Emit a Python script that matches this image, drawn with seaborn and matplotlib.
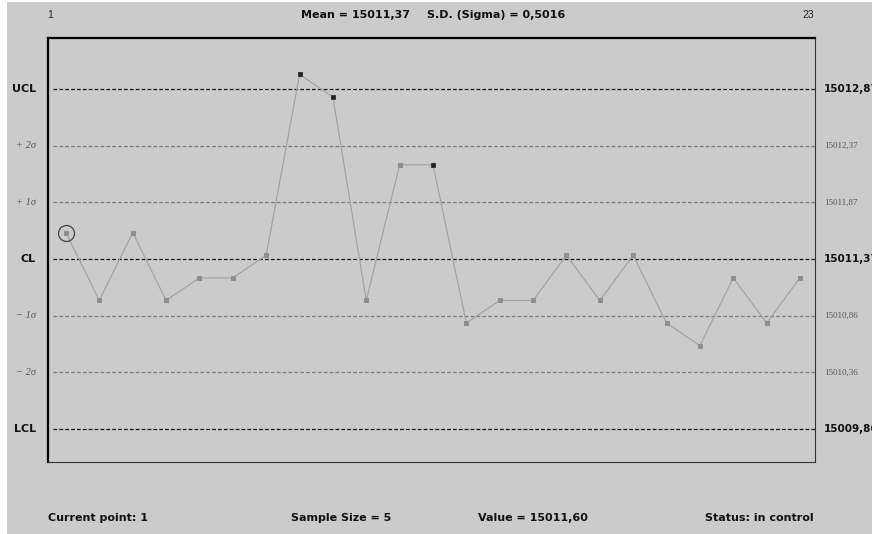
import matplotlib
matplotlib.use("Agg")
import matplotlib.pyplot as plt
import matplotlib.patches as mpatches
import numpy as np
import pandas as pd
import seaborn as sns

# ---- data -------------------------------------------------------------
samples = list(range(1, 24))
sample_means = [15011.60, 15011.00, 15011.60, 15011.00, 15011.20, 15011.20,
                15011.40, 15013.00, 15012.80, 15011.00, 15012.20, 15012.20,
                15010.80, 15011.00, 15011.00, 15011.40, 15011.00, 15011.40,
                15010.80, 15010.60, 15011.20, 15010.80, 15011.20]
flagged_samples = [8, 9, 12]
current_point = 1
process_mean = 15011.366
process_sigma = 0.5016
sample_size = 5
status_text = "in control"

zone_names = ["UCL", "+ 2\u03c3", "+ 1\u03c3", "CL", "\u2212 1\u03c3", "\u2212 2\u03c3", "LCL"]
zone_k = [3, 2, 1, 0, -1, -2, -3]


def comma(v, nd=2):
    return f"{v:.{nd}f}".replace(".", ",")


df = pd.DataFrame({"sample": samples, "value": sample_means})
df["flag"] = df["sample"].isin(flagged_samples)

# ---- figure -----------------------------------------------------------
W, H = 872, 534
BG = "#cbcbcb"
sns.set_theme(style="white")
fig = plt.figure(figsize=(W / 100, H / 100), dpi=100, facecolor="white")

# window panel
fig.patches.append(mpatches.Rectangle((7 / W, 0), 1 - 7 / W, 1 - 2 / H,
                                      transform=fig.transFigure,
                                      facecolor=BG, edgecolor="none", zorder=-10))

L, R, T, B = 48, 815, 38, 462
ax = fig.add_axes([L / W, 1 - B / H, (R - L) / W, (B - T) / H])
ax.set_facecolor(BG)
ax.set_zorder(1)

# control / zone lines
for name, k in zip(zone_names, zone_k):
    y = process_mean + k * process_sigma
    main = k in (3, 0, -3)
    ax.axhline(y, xmin=5 / (R - L), xmax=1, color="#111111" if main else "#7a7a7a",
               lw=0.9, ls=(0, (3.0, 1.7)), zorder=1)
    ax.text(-12 / (R - L), y, name, transform=ax.get_yaxis_transform(),
            ha="right", va="center",
            fontsize=8 if main else 7.5,
            fontweight="bold" if main else "normal",
            fontfamily="DejaVu Sans" if main else "Liberation Serif",
            fontstyle="normal" if main else "italic",
            color="#111111" if main else "#555555", clip_on=False)
    ax.text(1 + 9 / (R - L), y, comma(y), transform=ax.get_yaxis_transform(),
            ha="left", va="center",
            fontsize=7.5 if main else 6.5,
            fontweight="bold" if main else "normal",
            fontfamily="DejaVu Sans" if main else "Liberation Serif",
            color="#111111" if main else "#555555", clip_on=False)

# sample means
sns.lineplot(data=df, x="sample", y="value", ax=ax, color="#a3a3a3", lw=0.9,
             marker="s", markersize=3.2, markerfacecolor="#8e8e8e",
             markeredgecolor="#8e8e8e", zorder=3)
sns.scatterplot(data=df[df["flag"]], x="sample", y="value", ax=ax, marker="s",
                s=10, color="#222222", edgecolor="#222222", linewidth=0.4, zorder=4)

# current point ring
cur = df[df["sample"] == current_point]
ax.plot(cur["sample"], cur["value"], marker="o", markersize=11.5,
        markerfacecolor="none", markeredgecolor="#444444", markeredgewidth=0.9,
        ls="none", zorder=5)

ax.set_xlim(0.46, 23.45)
ax.set_ylim(process_mean - 3.58 * process_sigma, process_mean + 3.90 * process_sigma)
ax.set_xticks([])
ax.set_yticks([])
ax.set_xlabel("")
ax.set_ylabel("")
for side in ("left", "top"):
    ax.spines[side].set_color("#000000")
    ax.spines[side].set_linewidth(1.6)
for side in ("right", "bottom"):
    ax.spines[side].set_color("#333333")
    ax.spines[side].set_linewidth(0.8)


def ftext(x, y, s, **kw):
    fig.text(x / W, 1 - y / H, s, va="center", **kw)


bold = dict(fontsize=8, fontweight="bold", fontfamily="DejaVu Sans", color="#111111")
ftext(47, 15, str(samples[0]), fontsize=7.5, fontfamily="Liberation Sans", color="#222222")
ftext(814, 15, str(samples[-1]), ha="right", fontsize=7.5, fontfamily="Liberation Sans",
      color="#222222")
ftext(301, 15, f"Mean = {comma(process_mean)}", **bold)
ftext(427, 15, f"S.D. (Sigma) = {comma(process_sigma, 4)}", **bold)

cur_val = df.loc[df["sample"] == current_point, "value"].iloc[0]
ftext(48, 518, f"Current point: {current_point}", **bold)
ftext(291, 518, f"Sample Size = {sample_size}", **bold)
ftext(478, 518, f"Value = {comma(cur_val)}", **bold)
ftext(814, 518, f"Status: {status_text}", ha="right", **bold)

fig.savefig("out.png", dpi=100, facecolor=fig.get_facecolor())
